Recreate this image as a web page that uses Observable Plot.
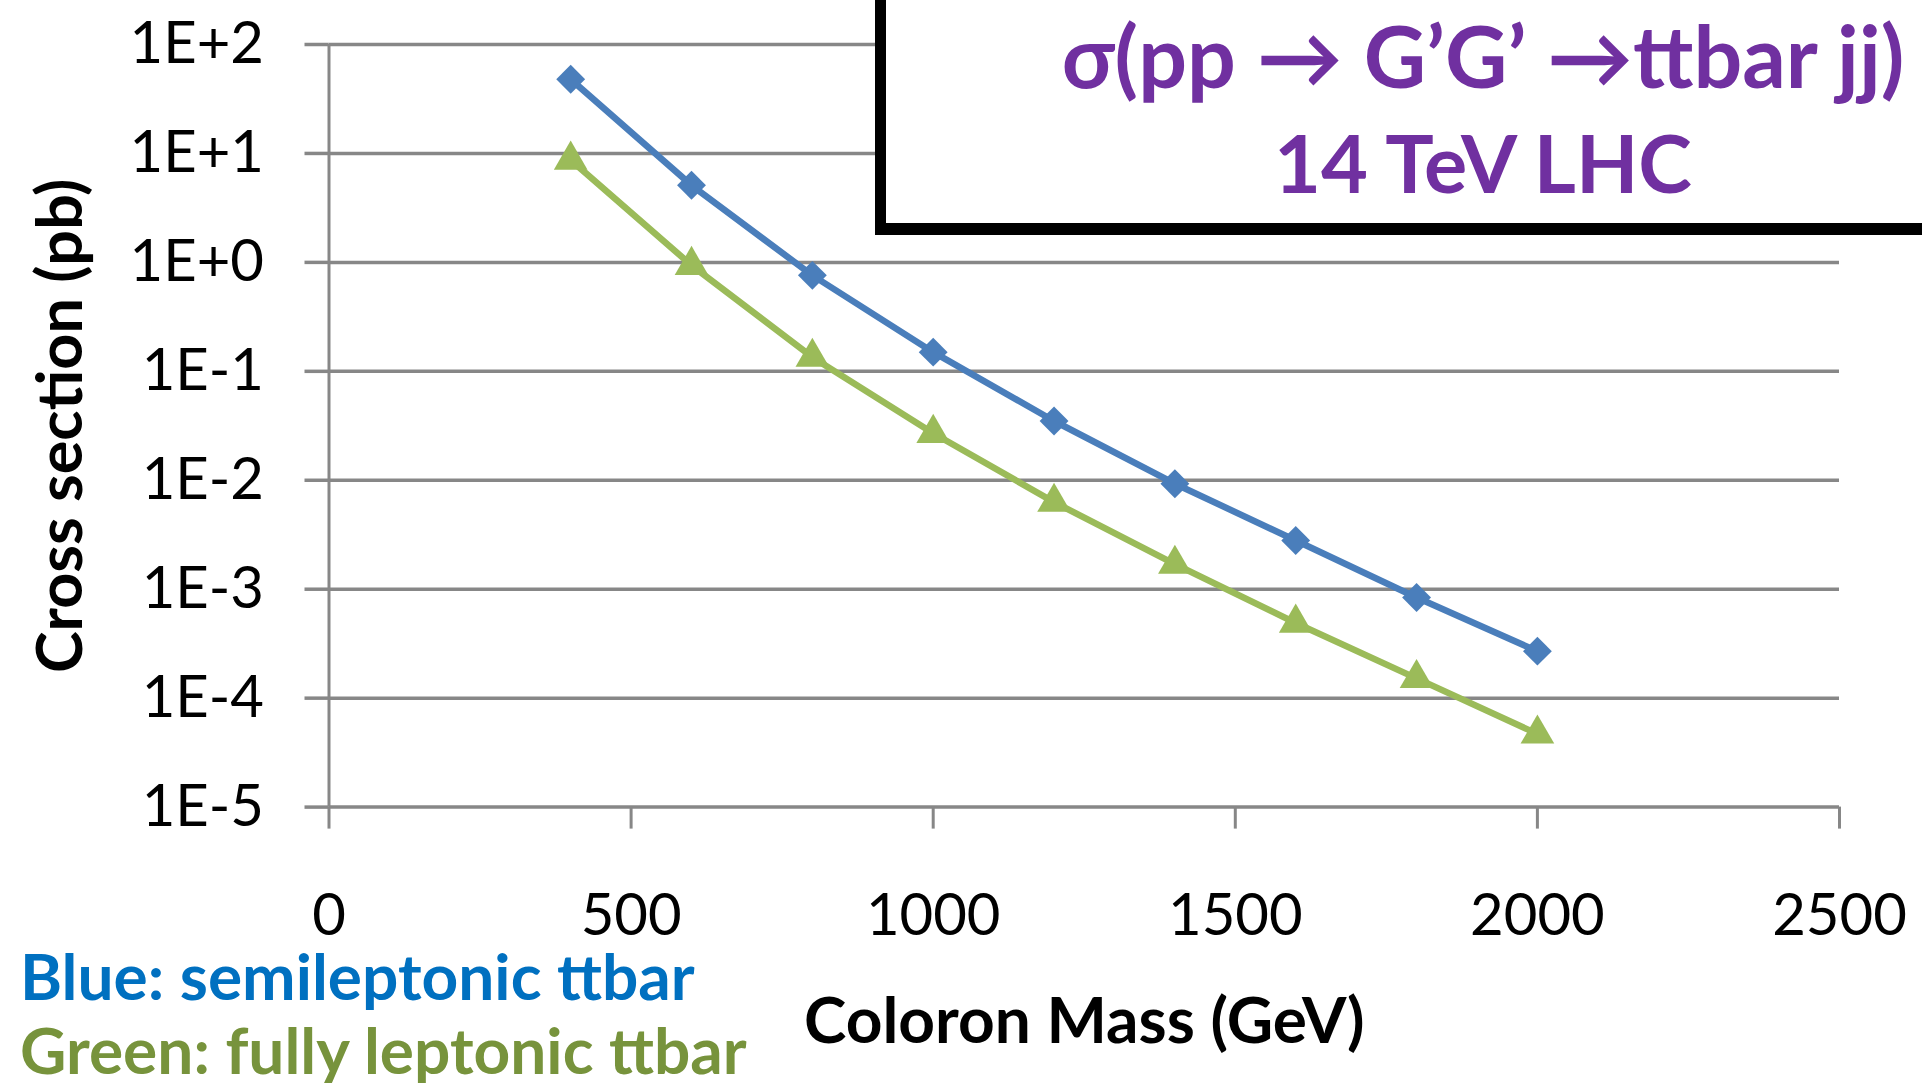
<!DOCTYPE html>
<html><head><meta charset="utf-8">
<script src="https://cdn.jsdelivr.net/npm/d3@7"></script>
<script src="https://cdn.jsdelivr.net/npm/@observablehq/plot@0.6"></script>
<style>
html,body{margin:0;padding:0;background:#fff;overflow:hidden;}
#page{position:relative;width:1922px;height:1083px;overflow:hidden;font-family:Lato,sans-serif;background:#fff;}
#page svg{position:absolute;left:0;top:0;}
.abs{position:absolute;white-space:nowrap;}
#box{position:absolute;left:875px;top:-30px;width:1216px;height:265px;background:#fff;border-left:11px solid #000;border-bottom:12px solid #000;box-sizing:border-box;}
.title{left:983px;width:1000px;text-align:center;color:#7030A0;font-weight:bold;line-height:100px;}
.legend{left:20px;font-weight:bold;font-size:64px;line-height:56px;}
</style></head><body><div id="page"></div>
<script>
// ---- data ----
const masses = [400, 600, 800, 1000, 1200, 1400, 1600, 1800, 2000];
const semileptonic = [48, 5.1, 0.76, 0.15, 0.035, 0.0093, 0.0028, 0.00084, 0.00027];
const fullyLeptonic = [8.7, 0.94, 0.135, 0.027, 0.0063, 0.0017, 0.00049, 0.000152, 0.000047];
const xTicks = [0, 500, 1000, 1500, 2000, 2500];
const yTicks = [1e2, 1e1, 1e0, 1e-1, 1e-2, 1e-3, 1e-4, 1e-5];
const yTickLabels = ["1E+2", "1E+1", "1E+0", "1E-1", "1E-2", "1E-3", "1E-4", "1E-5"];
const xLabel = "Coloron Mass (GeV)";
const yLabel = "Cross section (pb)";
const titleLines = ["σ(pp → G’G’ →ttbar jj)", "14 TeV LHC"];
const legendLines = ["Blue: semileptonic ttbar", "Green: fully leptonic ttbar"];

const blue = "#4A7EBB", green = "#9BBB59", gray = "#878787";
const semiRows = masses.map((m, i) => ({m, v: semileptonic[i]}));
const fullRows = masses.map((m, i) => ({m, v: fullyLeptonic[i]}));

const plot = Plot.plot({
  width: 1922, height: 1083,
  marginLeft: 328.5, marginRight: 83, marginTop: 44, marginBottom: 276.4,
  style: {fontFamily: "Lato, sans-serif", background: "transparent", color: "black"},
  x: {domain: [0, 2500]},
  y: {type: "log", domain: [1e-5, 100]},
  marks: [
    Plot.ruleY(yTicks, {stroke: gray, strokeWidth: 3.5}),
    Plot.ruleX([0], {stroke: gray, strokeWidth: 3}),
    Plot.axisY({ticks: yTicks, tickSize: 24, tickPadding: 41, stroke: gray, strokeWidth: 3.5, fill: "black",
      fontSize: 58, label: null, tickFormat: d => yTickLabels[yTicks.indexOf(d)]}),
    Plot.axisX({ticks: xTicks, tickSize: 22, tickPadding: 65, stroke: gray, strokeWidth: 3, fill: "black",
      fontSize: 58, label: null, tickFormat: d => String(d)}),
    Plot.line(semiRows, {x: "m", y: "v", stroke: blue, strokeWidth: 6.5}),
    Plot.line(fullRows, {x: "m", y: "v", stroke: green, strokeWidth: 6.5}),
    Plot.dot(semiRows, {x: "m", y: "v", symbol: "diamond2", r: 13, fill: blue, stroke: null}),
    Plot.dot(fullRows, {x: "m", y: "v", symbol: "triangle", r: 12.5, fill: green, stroke: null}),
    Plot.text([yLabel], {text: d => d, frameAnchor: "left", textAnchor: "middle", dx: -267, rotate: -90, fontSize: 63, fontWeight: "bold", fill: "black"}),
    Plot.text([xLabel], {text: d => d, frameAnchor: "bottom", textAnchor: "middle", dy: 236, fontSize: 64, fontWeight: "bold", fill: "black"})
  ]
});
const page = document.getElementById("page");
page.appendChild(plot);

const box = document.createElement("div");
box.id = "box";
page.appendChild(box);
const titleSizes = [86, 81];
const titleTops = [5, 112];
titleLines.forEach((t, i) => {
  const d = document.createElement("div");
  d.className = "abs title";
  d.style.top = titleTops[i] + "px";
  d.style.fontSize = titleSizes[i] + "px";
  d.textContent = t;
  page.appendChild(d);
});
const legendColors = ["#0070C0", "#77933C"];
const legendCenters = [976, 1050];
legendLines.forEach((t, i) => {
  const d = document.createElement("div");
  d.className = "abs legend";
  d.style.top = (legendCenters[i] - 28) + "px";
  d.style.color = legendColors[i];
  d.textContent = t;
  page.appendChild(d);
});
</script></body></html>
